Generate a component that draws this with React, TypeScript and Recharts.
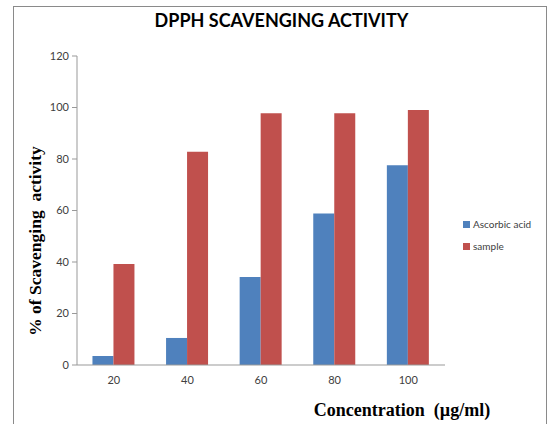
import { BarChart, Bar, XAxis, YAxis, Legend } from "recharts";

// ─── Data ──────────────────────────────────────────────────────────

const concentrations = ["20", "40", "60", "80", "100"];
const ascorbicAcid = [3.5, 10.5, 34.2, 58.8, 77.6];
const sample = [39.2, 82.8, 97.8, 97.8, 99];
const yTicks = [0, 20, 40, 60, 80, 100, 120];

const seriesNames = { ascorbic: "Ascorbic acid", sample: "sample" };
const BLUE = "#4F81BD";
const RED = "#C0504D";

const data = concentrations.map((c, i) => ({
  conc: c,
  ascorbic: ascorbicAcid[i],
  sample: sample[i],
}));

const tickStyle = { fill: "#404040", fontSize: 11, fontFamily: "Lato, 'Open Sans', sans-serif" };

// ─── Legend ────────────────────────────────────────────────────────

function SideLegend() {
  const items = [
    { name: seriesNames.ascorbic, color: BLUE },
    { name: seriesNames.sample, color: RED },
  ];
  return (
    <div style={{ fontFamily: "Lato, 'Open Sans', sans-serif", fontSize: 10, color: "#404040" }}>
      {items.map((it) => (
        <div key={it.name} style={{ display: "flex", alignItems: "center", height: 22 }}>
          <span style={{ width: 7, height: 7, background: it.color, marginRight: 3, display: "inline-block" }} />
          {it.name}
        </div>
      ))}
    </div>
  );
}

// ─── Component ─────────────────────────────────────────────────────

export default function App() {
  return (
    <div style={{ position: "absolute", left: 0, top: 0, width: 549, height: 424, overflow: "hidden", background: "#fff" }}>
      {/* outer chart frame */}
      <div
        style={{
          position: "absolute",
          left: 13,
          top: 6,
          width: 534,
          height: 440,
          border: "1px solid #8a8a8a",
          boxSizing: "border-box",
        }}
      />
      <div
        style={{
          position: "absolute",
          left: 0,
          width: 563,
          top: 9,
          textAlign: "center",
          fontFamily: "Lato, 'Open Sans', sans-serif",
          fontWeight: 700,
          fontSize: 18,
          color: "#000",
        }}
      >
        DPPH SCAVENGING ACTIVITY
      </div>
      <div
        style={{
          position: "absolute",
          left: 35,
          top: 241,
          transform: "translate(-50%, -50%) rotate(-90deg)",
          whiteSpace: "pre",
          fontFamily: "'Liberation Serif', serif",
          fontWeight: 700,
          fontSize: 17.5,
          color: "#000",
        }}
      >
        {"% of Scavenging  activity"}
      </div>
      <div
        style={{
          position: "absolute",
          left: 402,
          top: 410,
          transform: "translate(-50%, -50%)",
          whiteSpace: "pre",
          fontFamily: "'Liberation Serif', serif",
          fontWeight: 700,
          fontSize: 18,
          color: "#000",
        }}
      >
        {"Concentration  (µg/ml)"}
      </div>
      <div style={{ position: "absolute", left: 0, top: 0 }}>
        <BarChart
          width={549}
          height={424}
          data={data}
          margin={{ top: 56, right: 104, bottom: 29, left: 37 }}
          barCategoryGap="21%"
          barGap={0}
        >
          <XAxis
            dataKey="conc"
            stroke="#999"
            tickLine={false}
            tickSize={0}
            tickMargin={11}
            tick={tickStyle}
            height={30}
          />
          <YAxis
            domain={[0, 120]}
            ticks={yTicks}
            stroke="#999"
            tickSize={5}
            tickMargin={3}
            tick={tickStyle}
            width={40}
            interval={0}
          />
          {/* centered + middle keeps the legend out of the plot offset */}
          <Legend
            layout="horizontal"
            verticalAlign="middle"
            align="center"
            content={() => <SideLegend />}
            wrapperStyle={{ left: 463, top: 213, width: 86, height: 44 }}
          />
          <Bar dataKey="ascorbic" name={seriesNames.ascorbic} fill={BLUE} isAnimationActive={false} />
          <Bar dataKey="sample" name={seriesNames.sample} fill={RED} isAnimationActive={false} />
        </BarChart>
      </div>
    </div>
  );
}
